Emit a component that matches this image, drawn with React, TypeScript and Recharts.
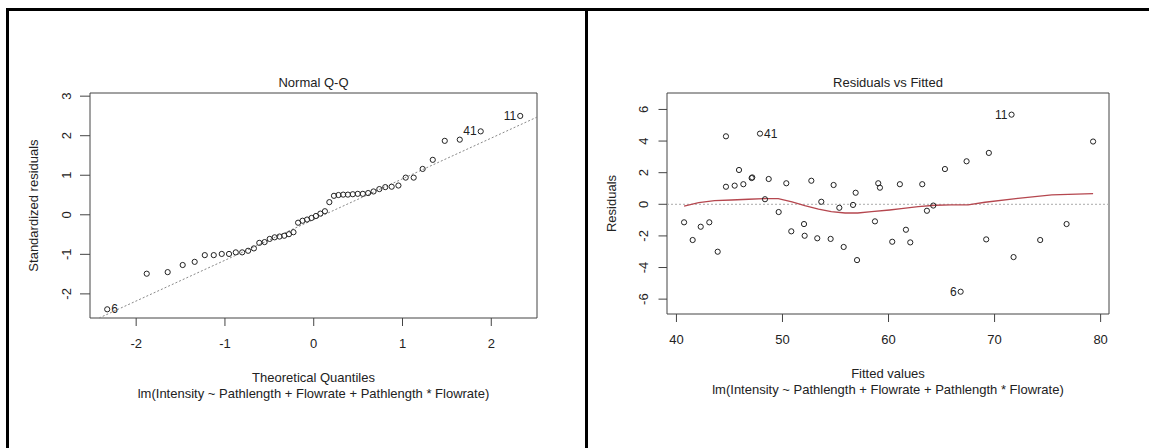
import React from 'react'
import { ScatterChart, Scatter, XAxis, YAxis, ReferenceLine, ReferenceArea } from 'recharts'

// R plot.lm diagnostics: Normal Q-Q (left) and Residuals vs Fitted (right)

const qqTheoretical = [
  -2.326, -1.881, -1.645, -1.476, -1.341, -1.227, -1.126, -1.036, -0.954, -0.878,
  -0.806, -0.739, -0.674, -0.613, -0.553, -0.496, -0.44, -0.385, -0.332, -0.279,
  -0.228, -0.176, -0.126, -0.075, -0.025, 0.025, 0.075, 0.126, 0.176, 0.228,
  0.279, 0.332, 0.385, 0.44, 0.496, 0.553, 0.613, 0.674, 0.739, 0.806,
  0.878, 0.954, 1.036, 1.126, 1.227, 1.341, 1.476, 1.645, 1.881, 2.326,
]
const qqStdResid = [
  -2.39, -1.49, -1.45, -1.27, -1.19, -1.02, -1.02, -0.99, -0.99, -0.95,
  -0.95, -0.91, -0.85, -0.71, -0.69, -0.61, -0.57, -0.55, -0.53, -0.49,
  -0.44, -0.2, -0.15, -0.12, -0.08, -0.03, 0.03, 0.09, 0.32, 0.48,
  0.5, 0.51, 0.51, 0.52, 0.53, 0.53, 0.55, 0.59, 0.65, 0.7,
  0.71, 0.74, 0.94, 0.94, 1.16, 1.39, 1.87, 1.9, 2.11, 2.5,
]
const qqIds: Record<number, string> = { 0: '6', 48: '41', 49: '11' }
const qqXTicks = [-2, -1, 0, 1, 2]
const qqYTicks = [-2, -1, 0, 1, 2, 3]
const qqXDomain = [-2.52, 2.515]
const qqYDomain = [-2.61, 3.08]
// qqline through the quartiles
const qqIntercept = -0.12
const qqSlope = 1.03

const fitted = [
  40.72, 41.53, 42.29, 43.1, 43.89, 44.67, 44.67, 45.49, 45.9, 46.31,
  47.09, 47.15, 47.88, 48.35, 48.7, 49.64, 50.36, 50.83, 52.03, 52.09,
  52.72, 53.28, 53.66, 54.54, 54.82, 55.36, 55.77, 56.65, 56.9, 57.03,
  58.72, 59.03, 59.19, 60.35, 61.07, 61.64, 62.05, 63.18, 63.62, 64.22,
  65.32, 66.8, 67.36, 69.21, 69.46, 71.6, 71.79, 74.3, 76.79, 79.29,
]
const residuals = [
  -1.14, -2.26, -1.42, -1.14, -3.0, 4.3, 1.11, 1.18, 2.17, 1.27,
  1.66, 1.7, 4.47, 0.32, 1.6, -0.49, 1.33, -1.71, -1.25, -1.99,
  1.49, -2.15, 0.16, -2.19, 1.22, -0.22, -2.7, -0.04, 0.73, -3.53,
  -1.08, 1.33, 1.05, -2.37, 1.27, -1.61, -2.41, 1.27, -0.41, -0.08,
  2.23, -5.53, 2.72, -2.22, 3.25, 5.67, -3.34, -2.26, -1.25, 3.97,
]
const rfIds: Record<number, string> = { 12: '41', 41: '6', 45: '11' }
const smoothX = [40.72, 42.1, 43.6, 45.2, 46.8, 48.4, 49.6, 50.9, 52.1, 53.4, 54.6, 55.9, 57.1, 58.4, 60.1, 61.2, 62.8, 64.4, 65.9, 67.5, 69.1, 72.2, 75.4, 79.29]
const smoothY = [-0.11, 0.1, 0.23, 0.27, 0.32, 0.36, 0.36, 0.16, -0.09, -0.3, -0.47, -0.55, -0.55, -0.47, -0.36, -0.28, -0.15, -0.06, -0.04, -0.04, 0.13, 0.38, 0.59, 0.67]
const rfXTicks = [40, 50, 60, 70, 80]
const rfYTicks = [-6, -4, -2, 0, 2, 4, 6]
const rfXDomain = [39.11, 80.79]
const rfYDomain = [-6.94, 7.04]

const subtitle = 'lm(Intensity ~ Pathlength + Flowrate + Pathlength * Flowrate)'
const FONT = '"Liberation Sans", Arial, sans-serif'
const INK = '#222'

const qqData = qqTheoretical.map((x, i) => ({ x, y: qqStdResid[i], id: qqIds[i] || '' }))
const rfData = fitted.map((x, i) => ({ x, y: residuals[i], id: rfIds[i] || '' }))
const smoothData = smoothX.map((x, i) => ({ x, y: smoothY[i] }))

// clip the qqline to the plot box
const lineAt = (x: number) => qqIntercept + qqSlope * x
const qqX1 = Math.max(qqXDomain[0], (qqYDomain[0] - qqIntercept) / qqSlope)
const qqX2 = Math.min(qqXDomain[1], (qqYDomain[1] - qqIntercept) / qqSlope)

const makePoint = (midX: number) => (props: any) => {
  const { cx, cy, payload } = props
  if (cx == null || cy == null) return <g />
  const left = payload.x > midX
  return (
    <g>
      <circle cx={cx} cy={cy} r={2.6} fill="none" stroke={INK} strokeWidth={1} />
      {payload.id && (
        <text x={left ? cx - 4 : cx + 4} y={cy} textAnchor={left ? 'end' : 'start'}
          dominantBaseline="central" fontSize={12} fontFamily={FONT} fill={INK}>
          {payload.id}
        </text>
      )}
    </g>
  )
}

const XTick = (props: any) => (
  <text x={props.x} y={props.y} textAnchor="middle" dominantBaseline="central"
    fontSize={13} fontFamily={FONT} fill={INK}>{props.payload.value}</text>
)
const YTick = (props: any) => (
  <text x={props.x} y={props.y} textAnchor="middle" dominantBaseline="central"
    transform={`rotate(-90 ${props.x} ${props.y})`} fontSize={13} fontFamily={FONT} fill={INK}>
    {props.payload.value}
  </text>
)

const xTitle = (title: string) => (p: any) => {
  const vb = p.viewBox
  const cx = vb.x + vb.width / 2
  return (
    <g fontFamily={FONT} fontSize={13} fill={INK}>
      <text x={cx} y={vb.y + 59} textAnchor="middle" dominantBaseline="central">{title}</text>
      <text x={cx} y={vb.y + 75} textAnchor="middle" dominantBaseline="central">{subtitle}</text>
    </g>
  )
}
const yTitle = (title: string, dx: number) => (p: any) => {
  const vb = p.viewBox
  const x = vb.x + vb.width - dx
  const y = vb.y + vb.height / 2
  return (
    <text x={x} y={y} textAnchor="middle" dominantBaseline="central" transform={`rotate(-90 ${x} ${y})`}
      fontFamily={FONT} fontSize={13} fill={INK}>{title}</text>
  )
}
const mainTitle = (title: string) => (p: any) => {
  const vb = p.viewBox
  return (
    <text x={vb.x + vb.width / 2} y={vb.y - 11} textAnchor="middle" dominantBaseline="central"
      fontFamily={FONT} fontSize={13} fill={INK}>{title}</text>
  )
}

const QQPlot = () => (
  <ScatterChart width={580} height={448} margin={{ top: 93, right: 43, bottom: 90, left: 50 }}>
    <XAxis type="number" dataKey="x" domain={qqXDomain} ticks={qqXTicks} allowDataOverflow
      height={40} tickSize={8} tickMargin={17} tick={<XTick />} axisLine={false}
      tickLine={{ stroke: '#444' }} label={xTitle('Theoretical Quantiles')} />
    <YAxis type="number" dataKey="y" domain={qqYDomain} ticks={qqYTicks} allowDataOverflow
      width={40} tickSize={10} tickMargin={13} tick={<YTick />} axisLine={false}
      tickLine={{ stroke: '#444' }} label={yTitle('Standardized residuals', 57)} />
    <ReferenceArea x1={qqXDomain[0]} x2={qqXDomain[1]} y1={qqYDomain[0]} y2={qqYDomain[1]}
      fill="none" stroke="#444" strokeWidth={1} ifOverflow="visible" label={mainTitle('Normal Q-Q')} />
    <ReferenceLine segment={[{ x: qqX1, y: lineAt(qqX1) }, { x: qqX2, y: lineAt(qqX2) }]}
      stroke="#888" strokeDasharray="2 2" ifOverflow="visible" />
    <Scatter data={qqData} shape={makePoint(0)} isAnimationActive={false} />
  </ScatterChart>
)

const ResidPlot = () => (
  <ScatterChart width={569} height={448} margin={{ top: 93, right: 40, bottom: 94, left: 47 }}>
    <XAxis type="number" dataKey="x" domain={rfXDomain} ticks={rfXTicks} allowDataOverflow
      height={40} tickSize={8} tickMargin={17} tick={<XTick />} axisLine={false}
      tickLine={{ stroke: '#444' }} label={xTitle('Fitted values')} />
    <YAxis type="number" dataKey="y" domain={rfYDomain} ticks={rfYTicks} allowDataOverflow
      width={40} tickSize={8.5} tickMargin={14.5} tick={<YTick />} axisLine={false}
      tickLine={{ stroke: '#444' }} label={yTitle('Residuals', 56)} />
    <ReferenceArea x1={rfXDomain[0]} x2={rfXDomain[1]} y1={rfYDomain[0]} y2={rfYDomain[1]}
      fill="none" stroke="#444" strokeWidth={1} ifOverflow="visible" label={mainTitle('Residuals vs Fitted')} />
    <ReferenceLine y={0} stroke="#aaa" strokeDasharray="2 2" />
    <Scatter data={smoothData} line={{ stroke: '#b5474f', strokeWidth: 1.3 }} shape={() => <g />}
      isAnimationActive={false} />
    <Scatter data={rfData} shape={makePoint(60)} isAnimationActive={false} />
  </ScatterChart>
)

export default function App() {
  return (
    <div style={{ position: 'absolute', left: 0, top: 0, width: 1149, height: 448, background: '#fff', overflow: 'hidden' }}>
      <div style={{ position: 'absolute', left: 0, top: 0 }}><QQPlot /></div>
      <div style={{ position: 'absolute', left: 580, top: 0 }}><ResidPlot /></div>
      <div style={{ position: 'absolute', left: 6, top: 8, width: 1143, height: 3, background: '#000' }} />
      <div style={{ position: 'absolute', left: 6, top: 8, width: 3, height: 440, background: '#000' }} />
      <div style={{ position: 'absolute', left: 585, top: 8, width: 3, height: 440, background: '#000' }} />
    </div>
  )
}
